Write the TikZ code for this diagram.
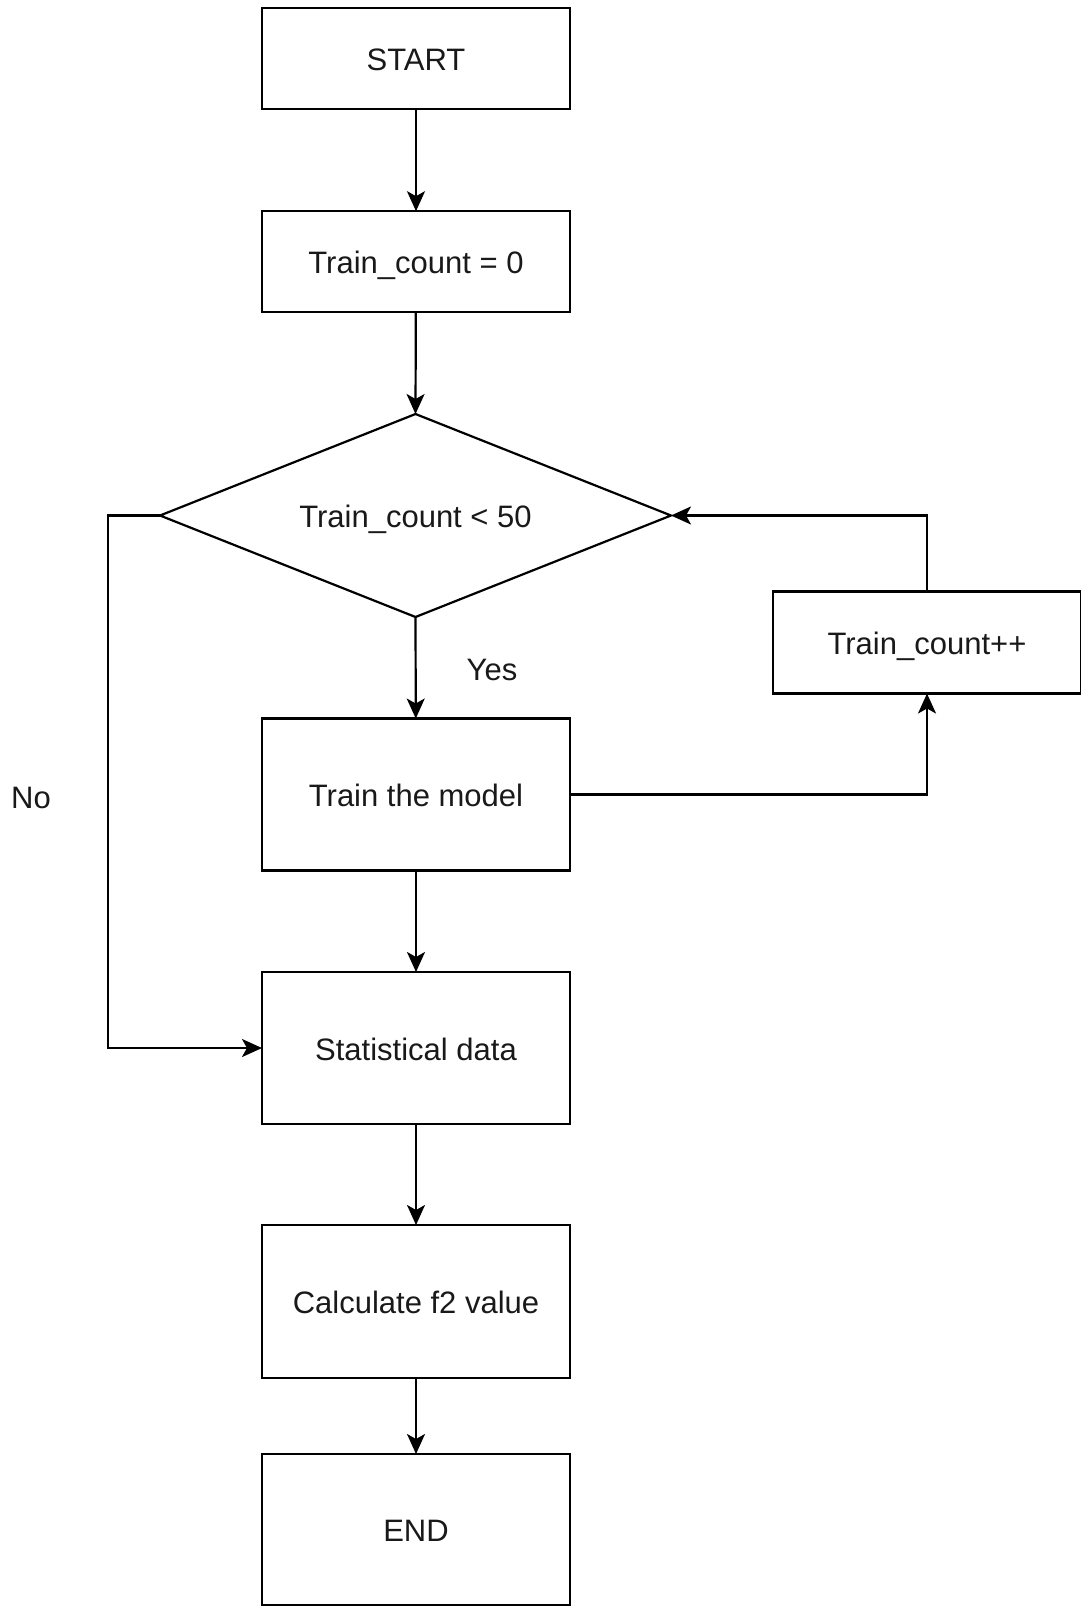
\documentclass[tikz,border=0pt]{standalone}
\usepackage{fontspec}
\setmainfont{Liberation Sans}
\usetikzlibrary{shapes.geometric,arrows.meta}
\begin{document}
\begin{tikzpicture}[x=0.5pt,y=-0.5pt,
  every node/.style={font=\fontsize{15.5pt}{18pt}\selectfont, text=black!90},
  box/.style={draw, line width=1.1pt, minimum width=154pt, inner sep=0pt, outer sep=0pt, text height=12pt, text depth=0pt},
  dec/.style={draw, diamond, aspect=2.5, line width=1.1pt, minimum width=255.5pt, minimum height=101.5pt, inner sep=0pt, outer sep=0pt, text height=12pt, text depth=0pt},
  conn/.style={line width=1.1pt, -{Stealth[length=10pt,width=9pt,inset=2.5pt]}},
  lbl/.style={text height=12pt, text depth=0pt}]
\useasboundingbox (0,0) rectangle (1081,1607);
\node[box, minimum height=50.5pt] (start) at (416,58.5) {START};
\node[box, minimum height=50.5pt] (tc0) at (416,261.7) {Train\_count = 0};
\node[dec] (dia) at (415.5,515.5) {Train\_count < 50};
\node[box, minimum height=76pt] (model) at (416,794.5) {Train the model};
\node[box, minimum height=51pt] (inc) at (927,642.5) {Train\_count++};
\node[box, minimum height=76pt] (stat) at (416,1048) {Statistical data};
\node[box, minimum height=76.5pt] (calc) at (416,1301.5) {Calculate f2 value};
\node[box, minimum height=75.5pt] (end) at (416,1529.5) {END};
\node[lbl] (yes) at (492,668) {Yes};
\node[lbl] (no) at (31,796) {No};
\coordinate (nl) at (108,515.5);
\draw[conn] (start) -- (tc0);
\draw[conn] (tc0) -- (dia.north);
\draw[conn] (dia.south) -- (model);
\draw[conn] (model) -- (stat);
\draw[conn] (stat) -- (calc);
\draw[conn] (calc) -- (end);
\draw[conn] (dia.west) -- (nl) |- (stat.west);
\draw[conn] (model.east) -| (inc.south);
\draw[conn] (inc.north) |- (dia.east);
\end{tikzpicture}
\end{document}
